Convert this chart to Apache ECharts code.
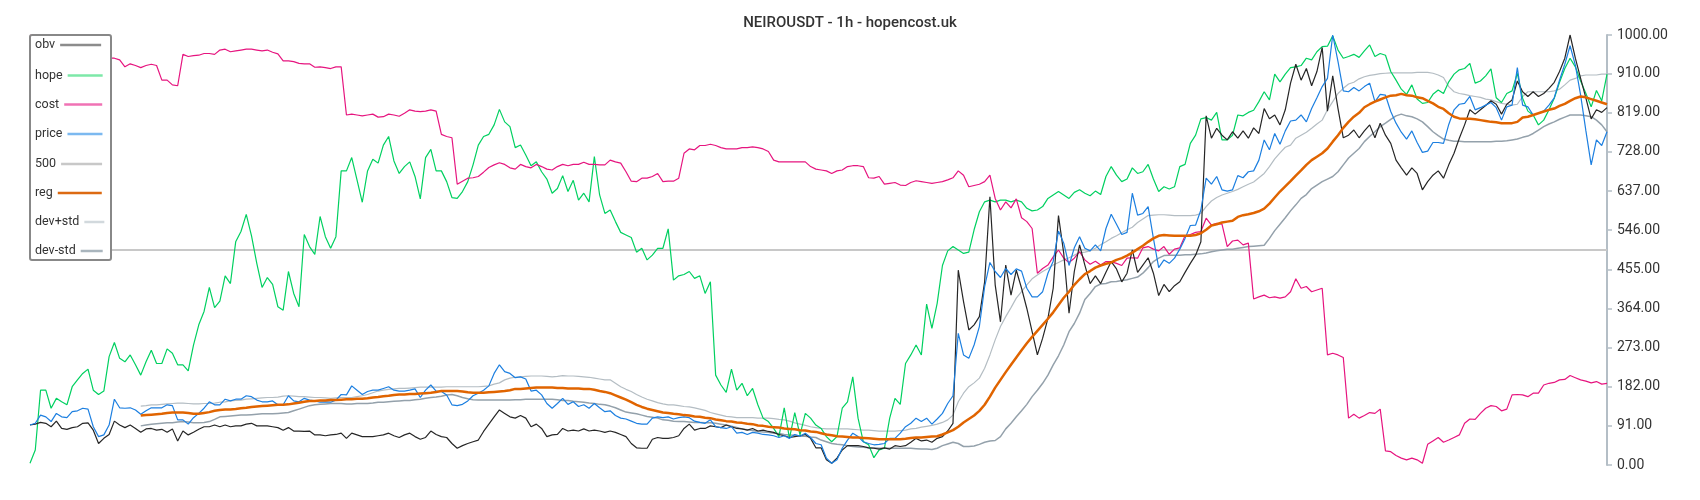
<!DOCTYPE html>
<html>
<head>
<meta charset="utf-8">
<script src="https://cdn.jsdelivr.net/npm/echarts@6/dist/echarts.min.js"></script>
<style>
html,body{margin:0;padding:0;background:#fff;}
#chart{width:1700px;height:500px;}
</style>
</head>
<body>
<div id="chart"></div>
<script>
// ---------------- DATA ----------------
const titleText = 'NEIROUSDT - 1h - hopencost.uk';
const seriesNames = ['obv', 'hope', 'cost', 'price', '500', 'reg', 'dev+std', 'dev-std'];
const categories = Array.from({length: 300}, (_, i) => i + 1);
const yMin = 0, yMax = 1000, yStep = 91;
const level500 = 500;

const obv = [
93,95,99,97,89,102,85,83,87,89,
97,98,81,50,62,71,102,93,87,93,
85,76,84,85,81,83,76,84,56,79,
70,76,83,89,89,93,89,93,89,91,
91,95,97,91,91,91,89,87,81,87,
79,79,78,79,70,70,68,70,71,74,
62,74,70,66,66,66,68,70,74,68,
64,70,74,66,60,64,79,71,66,64,
50,39,45,50,54,58,78,95,112,128,
120,112,109,115,109,89,95,85,66,70,
71,85,79,81,79,84,79,81,79,76,
79,76,71,66,50,40,39,39,60,64,
62,62,64,68,85,95,81,85,85,91,
89,87,93,89,85,84,81,85,79,81,
78,76,71,68,64,66,68,71,62,40,
40,12,4,16,35,45,45,45,43,40,
39,37,40,37,45,43,45,53,62,56,
58,53,62,66,79,97,453,380,314,326,
345,426,624,419,333,465,395,453,411,364,
310,256,295,341,411,580,492,353,450,512,
465,422,440,422,448,473,456,426,446,500,
448,465,482,446,394,420,403,417,426,448,
469,488,519,812,760,783,767,756,775,760,
777,760,784,771,829,805,814,791,826,888,
932,895,922,882,915,971,823,905,829,761,
767,779,761,777,791,761,795,767,748,709,
691,674,691,678,640,659,674,684,667,698,
725,760,791,826,816,826,836,847,839,816,
839,849,893,868,857,868,857,864,876,890,
915,946,1000,946,899,853,805,826,820,831
];

const hope = [
4,35,174,174,132,155,147,140,182,198,
213,223,174,164,172,252,285,248,240,256,
233,209,240,267,236,236,270,260,233,233,
219,279,326,357,413,366,381,440,422,519,
543,583,533,469,413,436,420,368,360,450,
399,368,536,508,490,578,531,504,531,684,
684,715,663,611,684,711,702,744,764,707,
678,694,705,671,619,715,734,684,684,659,
622,620,636,659,698,744,764,769,791,827,
798,787,738,744,721,696,705,682,665,632,
643,673,636,662,616,632,612,717,628,585,
593,566,541,535,529,495,504,477,488,504,
504,549,430,440,443,450,434,440,399,426,
209,186,169,223,174,190,161,178,140,109,
101,85,66,133,62,122,70,120,109,93,
85,66,54,66,132,147,205,109,54,47,
17,35,39,109,155,141,236,256,279,256,
374,318,376,464,498,508,500,492,495,547,
589,612,616,612,616,616,612,616,612,597,
591,593,601,620,628,636,628,620,634,640,
632,626,637,629,671,694,674,659,665,691,
678,682,699,665,636,647,642,647,694,699,
748,767,805,808,802,820,756,756,767,814,
812,820,825,845,868,849,909,891,909,924,
926,929,946,942,961,973,974,998,965,946,
950,955,948,963,977,950,957,953,915,895,
874,862,884,851,841,843,862,872,864,891,
909,919,922,934,888,893,905,921,854,843,
864,870,911,853,823,814,791,802,826,853,
890,922,946,926,893,864,833,871,847,909
];

const cost = [
1000,996,998,990,985,982,975,972,968,963,
960,957,952,950,947,946,946,942,926,933,
929,924,929,932,929,895,895,884,882,955,
950,952,953,957,957,955,965,967,961,963,
965,967,967,965,963,965,960,956,940,940,
938,934,933,933,925,926,924,922,926,926,
814,816,814,812,814,816,809,810,816,814,
811,818,826,823,822,823,826,823,769,764,
761,653,660,667,668,671,681,692,698,703,
699,691,688,699,694,691,699,694,688,686,
694,699,696,699,699,704,699,699,698,698,
709,705,702,682,660,659,667,667,671,678,
659,660,660,667,725,735,733,743,743,746,
743,738,735,735,735,738,738,740,738,735,
729,709,705,705,705,705,705,705,694,688,
686,684,678,684,686,694,696,696,694,668,
667,671,653,655,657,651,650,657,661,659,
657,655,657,659,663,668,684,674,647,650,
653,659,674,620,593,612,598,619,575,566,
550,446,457,465,484,500,481,471,481,496,
477,467,474,465,473,473,469,464,481,482,
481,505,508,502,498,508,490,502,505,533,
536,541,543,574,558,562,560,508,521,523,
512,516,386,391,395,389,391,388,391,403,
433,411,415,403,407,411,256,260,256,250,
109,118,109,115,122,120,130,33,31,22,
16,12,16,12,4,48,56,64,53,58,
64,70,97,107,106,120,132,138,136,126,
130,163,164,163,159,167,167,186,190,192,
198,199,208,203,198,195,191,194,188,190
];

const price = [
93,97,116,112,101,120,112,110,124,126,
132,130,89,66,70,93,153,133,132,133,
128,118,126,133,133,133,140,138,105,105,
95,110,120,132,147,140,140,153,149,153,
153,161,159,151,147,147,149,140,140,161,
149,147,155,151,149,146,147,146,151,164,
163,184,174,164,171,174,174,178,182,174,
172,172,174,177,157,174,186,172,171,163,
140,138,141,149,161,167,174,184,213,233,
217,213,203,205,200,172,174,163,143,132,
143,155,141,147,136,140,132,143,133,124,
126,115,109,107,102,97,95,95,109,112,
110,112,107,110,112,110,102,99,97,105,
89,87,85,89,74,76,71,76,74,71,
70,68,64,68,62,71,67,74,64,50,
47,16,4,12,39,58,74,66,54,50,
47,48,50,62,62,74,89,97,109,101,
109,95,107,120,143,161,306,256,248,279,
322,415,471,450,436,457,443,456,451,411,
391,391,403,446,474,544,516,464,505,531,
504,498,512,498,550,583,560,536,541,632,
581,585,601,527,459,477,469,481,502,527,
557,558,593,667,653,671,640,637,640,673,
668,682,684,709,756,733,771,746,777,800,
802,814,798,829,854,880,899,1000,938,870,
868,878,870,880,888,845,862,860,822,795,
774,758,777,750,727,730,750,750,748,792,
826,839,841,857,826,831,837,843,831,802,
833,837,924,837,833,814,818,823,837,854,
895,932,975,930,860,777,698,756,743,775
];

const reg = [
null,null,null,null,null,null,null,null,null,null,
null,null,null,null,null,null,null,null,null,null,
null,115,116,117,118,119,121,122,122,122,
121,119,119,121,123,126,128,129,129,130,
132,133,135,136,137,138,139,140,140,141,
143,145,147,149,149,150,150,151,151,152,
153,153,154,154,155,157,158,160,161,163,
164,164,165,165,166,167,168,170,172,172,
172,172,171,169,168,168,168,169,170,171,
172,174,177,177,178,179,180,180,180,180,
179,179,178,178,178,177,177,175,172,170,
167,162,157,152,146,140,135,131,128,125,
122,121,119,118,116,115,113,112,110,109,
106,104,102,101,99,98,96,95,92,91,
89,88,87,85,84,83,81,80,78,77,
74,71,69,67,66,65,64,64,63,62,
61,60,60,60,60,60,61,63,64,64,
65,66,67,71,76,81,89,99,107,115,
126,140,159,180,198,216,233,250,267,283,
298,312,326,340,355,372,389,403,419,432,
444,451,459,464,468,471,477,481,487,494,
502,510,519,527,533,535,534,533,533,533,
533,535,539,547,557,560,564,566,568,577,
581,583,586,590,596,608,622,636,648,660,
673,685,698,709,717,725,736,752,767,784,
798,810,819,832,839,845,850,855,859,860,
863,860,859,855,853,847,841,833,828,818,
810,806,805,805,804,802,800,798,797,795,
795,795,798,808,810,814,818,822,826,829,
835,840,847,853,857,855,851,847,843,839
];

const devPlus = [
null,null,null,null,null,null,null,null,null,null,
null,null,null,null,null,null,null,null,null,null,
null,137,138,140,140,141,142,143,144,144,
143,142,142,143,143,144,146,147,149,150,
151,153,154,155,156,157,157,158,160,161,
160,159,159,158,157,157,156,155,156,157,
157,157,159,161,164,168,172,174,176,177,
178,178,179,180,181,181,181,181,181,182,
182,182,182,182,182,182,183,184,188,191,
198,202,204,205,206,207,207,207,206,205,
206,208,207,207,206,205,204,202,200,198,
198,190,182,176,171,164,158,153,149,145,
142,140,140,138,136,135,133,130,127,122,
119,116,113,112,110,110,110,110,109,109,
109,108,106,105,102,98,95,92,89,87,
85,84,84,84,84,84,83,82,81,81,
80,79,79,79,79,80,81,84,85,88,
90,92,95,99,105,116,147,167,182,191,
202,225,256,291,322,345,366,388,403,419,
433,442,450,457,465,471,477,482,488,494,
495,498,504,512,519,527,533,540,547,553,
564,572,580,581,582,582,581,580,580,580,
580,581,585,601,614,622,628,632,636,641,
647,653,658,668,678,694,712,726,739,744,
760,767,774,783,793,802,826,845,864,876,
886,890,898,903,906,908,910,911,912,912,
912,912,912,913,913,913,911,907,901,880,
868,864,862,859,857,855,851,849,845,841,
839,837,839,857,868,868,868,868,868,870,
874,884,895,899,905,907,907,907,909,909
];

const devMinus = [
null,null,null,null,null,null,null,null,null,null,
null,null,null,null,null,null,null,null,null,null,
null,91,93,95,96,97,98,98,100,101,
100,98,98,99,101,106,112,113,114,115,
116,116,117,118,119,119,119,120,121,122,
126,130,134,138,140,141,142,143,143,143,
142,142,143,143,143,144,146,146,147,148,
149,150,150,152,153,155,157,158,160,163,
164,161,157,154,152,151,151,151,151,151,
151,151,152,152,153,153,153,153,153,153,
152,150,150,148,147,146,144,143,141,140,
137,133,128,123,121,119,116,113,111,109,
105,104,102,101,101,100,99,99,98,98,
97,95,93,90,87,84,82,80,78,77,
76,74,73,71,70,69,67,67,65,64,
58,54,50,48,47,45,43,42,41,40,
40,39,39,39,39,39,39,39,38,37,
37,36,39,45,49,53,50,43,43,44,
48,53,56,57,66,84,97,112,126,141,
159,174,190,209,233,254,279,310,329,353,
385,399,415,421,422,426,427,429,431,434,
437,446,459,473,481,487,488,488,488,489,
489,490,491,493,496,498,500,502,502,504,
506,508,509,510,511,527,545,560,575,591,
605,620,629,643,651,659,665,671,682,698,
714,725,736,752,764,775,787,795,804,812,
816,812,810,805,798,787,775,766,758,755,
753,753,752,752,752,752,752,752,753,753,
754,756,758,762,765,771,779,787,793,798,
804,809,814,814,814,812,810,802,791,775
];

// ---------------- STYLE ----------------
const FONT = 'Roboto, "Noto Sans", sans-serif';
const lineColors = {
  'obv': '#262626', 'hope': '#00d060', 'cost': '#e6157f', 'price': '#1c7fe0',
  '500': '#c8c8c8', 'reg': '#e06400', 'dev+std': '#b4bdc3', 'dev-std': '#94a1ab'
};
const legendColors = {
  'obv': '#8c8c8c', 'hope': '#7de8a8', 'cost': '#f072b4', 'price': '#7cb9f0',
  '500': '#c8c8c8', 'reg': '#dc6a12', 'dev+std': '#d2d9dd', 'dev-std': '#a9b5bd'
};
// legend layout: vertical centre of each row and icon length
const legendLayout = {
  'obv': [45, 41], 'hope': [75.5, 35], 'cost': [104.5, 38], 'price': [134, 35],
  '500': [164, 41], 'reg': [193, 44], 'dev+std': [222, 20], 'dev-std': [251, 22]
};

function lineSeries(name, data, width, z) {
  return {
    name: name, type: 'line', data: data, symbol: 'none', showSymbol: false,
    smooth: false, connectNulls: false, z: z,
    lineStyle: {color: lineColors[name], width: width},
    itemStyle: {color: lineColors[name]},
    emphasis: {disabled: true}
  };
}

const legends = seriesNames.map(n => ({
  data: [n],
  orient: 'horizontal',
  left: 35,
  top: legendLayout[n][0] - 6.5,
  align: 'right',
  padding: 0,
  icon: 'rect',
  itemWidth: legendLayout[n][1],
  itemHeight: 2.5,
  itemStyle: {color: legendColors[n], borderWidth: 0},
  lineStyle: {color: legendColors[n]},
  textStyle: {color: '#333', fontSize: 12.5, fontFamily: FONT, padding: [0, 0, 0, 0]},
  selectedMode: true,
  z: 20
}));

const option = {
  animation: false,
  backgroundColor: '#ffffff',
  textStyle: {fontFamily: FONT},
  title: {
    text: titleText, left: 'center', top: 11,
    textStyle: {fontSize: 15, fontWeight: 500, color: '#333', fontFamily: FONT}
  },
  legend: legends,
  graphic: [{
    type: 'rect', z: 15, silent: true,
    shape: {x: 30, y: 35, width: 81, height: 225, r: 2},
    style: {fill: '#ffffff', stroke: '#888888', lineWidth: 2}
  }],
  grid: {left: 30, right: 93, top: 35, bottom: 35, containLabel: false},
  xAxis: {
    type: 'category', data: categories, boundaryGap: false, show: false
  },
  yAxis: {
    type: 'value', position: 'right', min: yMin, max: yMax, interval: yStep,
    axisLine: {show: true, lineStyle: {color: '#b4bec6', width: 2}},
    axisTick: {show: true, length: 5, lineStyle: {color: '#b4bec6', width: 1.5}},
    axisLabel: {color: '#333', fontSize: 14, margin: 10, fontFamily: FONT,
      formatter: v => Number(v).toFixed(2)},
    splitLine: {show: false}
  },
  series: [
    lineSeries('500', [[0, level500], [categories.length - 1, level500]], 2, 2),
    lineSeries('dev-std', devMinus, 1.5, 3),
    lineSeries('dev+std', devPlus, 1.2, 3),
    lineSeries('hope', hope, 1.2, 4),
    lineSeries('cost', cost, 1.2, 4),
    lineSeries('obv', obv, 1.2, 5),
    lineSeries('price', price, 1.2, 5),
    lineSeries('reg', reg, 2.5, 6)
  ]
};

const chart = echarts.init(document.getElementById('chart'), null, {renderer: 'canvas'});
chart.setOption(option);
</script>
</body>
</html>
